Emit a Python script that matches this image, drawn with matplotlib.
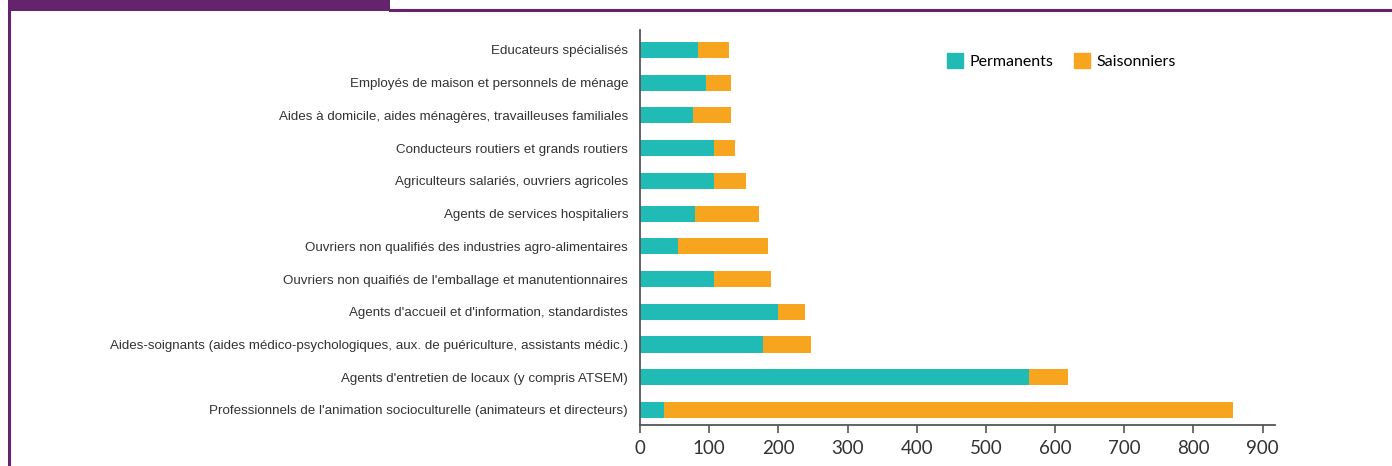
import matplotlib.pyplot as plt
from matplotlib.patches import Rectangle
from matplotlib.lines import Line2D

categories = [
    "Educateurs spécialisés",
    "Employés de maison et personnels de ménage",
    "Aides à domicile, aides ménagères, travailleuses familiales",
    "Conducteurs routiers et grands routiers",
    "Agriculteurs salariés, ouvriers agricoles",
    "Agents de services hospitaliers",
    "Ouvriers non qualifiés des industries agro-alimentaires",
    "Ouvriers non quaifiés de l'emballage et manutentionnaires",
    "Agents d'accueil et d'information, standardistes",
    "Aides-soignants (aides médico-psychologiques, aux. de puériculture, assistants médic.)",
    "Agents d'entretien de locaux (y compris ATSEM)",
    "Professionnels de l'animation socioculturelle (animateurs et directeurs)",
]
permanents = [84, 96, 76, 107, 107, 80, 55, 107, 199, 178, 563, 34]
totals = [129, 131, 131, 138, 153, 172, 185, 189, 238, 247, 619, 858]
saisonniers = [t - p for t, p in zip(totals, permanents)]
xticks = [0, 100, 200, 300, 400, 500, 600, 700, 800, 900]

teal = "#21BBB5"
orange = "#F7A51E"
purple = "#66236D"

fig = plt.figure(figsize=(13.92, 4.66), dpi=100)
ax = fig.add_axes([640 / 1392, 1 - 425 / 466, (1275 - 640) / 1392, 395 / 466])

n = len(categories)
ypos = [n - 1 - i for i in range(n)]
ax.barh(ypos, permanents, height=0.49, color=teal, label="Permanents")
ax.barh(ypos, saisonniers, left=permanents, height=0.49, color=orange, label="Saisonniers")

ax.set_xlim(0, 918)
ax.set_ylim(-0.46, n - 1 + 0.61)
ax.set_xticks(xticks)
ax.set_xticklabels([str(x) for x in xticks], fontsize=13.5, color="#333333",
                   family=["Lato", "DejaVu Sans"])
ax.set_yticks(ypos)
ax.set_yticklabels(categories, fontsize=9.65, color="#333333",
                   family=["Liberation Sans", "DejaVu Sans"])
ax.tick_params(axis="y", length=0, pad=8.5)
ax.tick_params(axis="x", direction="out", length=6, width=1.2, color="#555555", pad=4.5)
for s in ["top", "right"]:
    ax.spines[s].set_visible(False)
for s in ["left", "bottom"]:
    ax.spines[s].set_color("#555555")
    ax.spines[s].set_linewidth(1.3)

handles = [Rectangle((0, 0), 1, 1, color=teal), Rectangle((0, 0), 1, 1, color=orange)]
fig.legend(handles, ["Permanents", "Saisonniers"], loc="upper left",
           bbox_to_anchor=(933 / 1392, 1 - 39 / 466), ncol=2, frameon=False,
           prop={"family": ["Lato", "DejaVu Sans"], "size": 11.5},
           handlelength=1.0, handleheight=1.0, handletextpad=0.4, columnspacing=1.3)

# purple frame
fig.add_artist(Rectangle((8 / 1392, 1 - 11 / 466), 382 / 1392, 11 / 466,
                         transform=fig.transFigure, color=purple, lw=0))
fig.add_artist(Line2D([390 / 1392, 1], [1 - 10 / 466] * 2, transform=fig.transFigure,
                      color=purple, lw=2.2))
fig.add_artist(Line2D([9 / 1392] * 2, [0, 1], transform=fig.transFigure,
                      color=purple, lw=2.2))

fig.savefig("out.png", dpi=100)
